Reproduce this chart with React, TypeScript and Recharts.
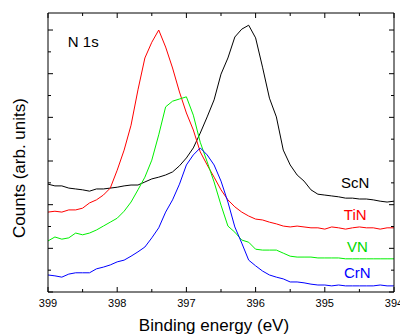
import { LineChart, Line, XAxis, YAxis, ReferenceDot } from 'recharts'

// binding energy grid, eV
const energies = [
  399.0, 398.9, 398.8, 398.7, 398.6, 398.5, 398.4, 398.3, 398.2, 398.1,
  398.0, 397.9, 397.8, 397.7, 397.6, 397.5, 397.4, 397.3, 397.2, 397.1,
  397.0, 396.9, 396.8, 396.7, 396.6, 396.5, 396.4, 396.3, 396.2, 396.1,
  396.0, 395.9, 395.8, 395.7, 395.6, 395.5, 395.4, 395.3, 395.2, 395.1,
  395.0, 394.9, 394.8, 394.7, 394.6, 394.5, 394.4, 394.3, 394.2, 394.1,
  394.0,
]

const scn = [
  2.47, 2.43, 2.43, 2.38, 2.36, 2.34, 2.31, 2.36, 2.36, 2.38,
  2.40, 2.43, 2.45, 2.45, 2.52, 2.59, 2.63, 2.68, 2.75, 2.89,
  3.07, 3.30, 3.64, 4.01, 4.40, 4.99, 5.36, 5.84, 6.02, 6.11,
  5.82, 5.15, 4.44, 4.01, 3.25, 2.91, 2.68, 2.54, 2.34, 2.24,
  2.22, 2.20, 2.18, 2.15, 2.15, 2.13, 2.13, 2.11, 2.08, 2.06,
  2.08,
]

const tin = [
  1.83, 1.85, 1.83, 1.88, 1.88, 1.92, 2.04, 2.11, 2.22, 2.38,
  2.79, 3.25, 3.82, 4.63, 5.36, 5.72, 6.00, 5.61, 5.13, 4.58,
  4.10, 3.71, 3.21, 2.91, 2.63, 2.34, 2.11, 1.95, 1.83, 1.74,
  1.67, 1.65, 1.60, 1.56, 1.51, 1.49, 1.51, 1.49, 1.47, 1.47,
  1.44, 1.49, 1.47, 1.44, 1.47, 1.49, 1.47, 1.47, 1.44, 1.47,
  1.47,
]

const vn = [
  1.17, 1.26, 1.21, 1.24, 1.35, 1.31, 1.35, 1.42, 1.51, 1.60,
  1.69, 1.85, 2.06, 2.34, 2.63, 3.02, 3.60, 4.24, 4.37, 4.42,
  4.47, 4.05, 3.43, 2.98, 2.52, 1.99, 1.51, 1.37, 1.19, 1.14,
  0.98, 0.96, 0.96, 0.96, 0.89, 0.82, 0.80, 0.80, 0.80, 0.78,
  0.78, 0.78, 0.78, 0.76, 0.76, 0.76, 0.76, 0.76, 0.76, 0.76,
  0.76,
]

const crn = [
  0.39, 0.37, 0.34, 0.41, 0.44, 0.44, 0.44, 0.53, 0.57, 0.62,
  0.69, 0.73, 0.82, 0.92, 1.03, 1.24, 1.47, 1.83, 2.11, 2.47,
  2.91, 3.14, 3.30, 3.14, 2.91, 2.54, 2.06, 1.49, 1.12, 0.73,
  0.60, 0.48, 0.39, 0.34, 0.30, 0.23, 0.23, 0.21, 0.18, 0.16,
  0.16, 0.14, 0.16, 0.14, 0.14, 0.14, 0.14, 0.14, 0.16, 0.14,
  0.14,
]

const xTicks = [399, 398.5, 398, 397.5, 397, 396.5, 396, 395.5, 395, 394.5, 394]
const yTicks = [0, 0.5, 1, 1.5, 2, 2.5, 3, 3.5, 4, 4.5, 5, 5.5, 6]

const series = [
  { key: 'ScN', color: '#000000' },
  { key: 'TiN', color: '#ff0000' },
  { key: 'VN', color: '#00f000' },
  { key: 'CrN', color: '#0000ff' },
]

// where the sample names sit, in data units
const tags = [
  { text: 'ScN', x: 394.56, y: 2.51, color: '#000000' },
  { text: 'TiN', x: 394.56, y: 1.77, color: '#ff0000' },
  { text: 'VN', x: 394.53, y: 1.04, color: '#00d800' },
  { text: 'CrN', x: 394.53, y: 0.45, color: '#0000ff' },
  { text: 'N 1s', x: 398.49, y: 5.74, color: '#000000' },
]

const data = energies.map((e, i) => ({
  e,
  ScN: scn[i],
  TiN: tin[i],
  VN: vn[i],
  CrN: crn[i],
}))

const font = '"Liberation Sans", Arial, sans-serif'

const xTick = (side: 'top' | 'bottom') => (props: any) => {
  const { x, payload } = props
  const major = Number.isInteger(payload.value)
  const len = major ? 5 : 3
  const y0 = side === 'bottom' ? 292 : 13
  const dir = side === 'bottom' ? -1 : 1
  return (
    <g>
      <line x1={x} x2={x} y1={y0} y2={y0 + dir * len} stroke="#000" />
      {side === 'bottom' && major && (
        <text x={x} y={307} textAnchor="middle" fontSize={11} fontFamily={font} fill="#000">
          {payload.value}
        </text>
      )}
    </g>
  )
}

const yTick = (side: 'left' | 'right') => (props: any) => {
  const { y, payload } = props
  const len = Number.isInteger(payload.value) ? 5 : 3
  const x0 = side === 'left' ? 48 : 394
  const dir = side === 'left' ? 1 : -1
  return <line x1={x0} x2={x0 + dir * len} y1={y} y2={y} stroke="#000" />
}

// the right/top frame axes carry no visible series, so give them a hidden one
const ghost = data.map(d => ({ e: d.e, g: d.ScN }))

export default function App() {
  return (
    <div style={{ position: 'absolute', left: 0, top: 0, background: '#fff' }}>
      <LineChart
        width={400}
        height={334}
        data={data}
        margin={{ top: 12, right: 5, bottom: 0, left: 47 }}
      >
        <XAxis
          dataKey="e"
          type="number"
          domain={[394, 399]}
          reversed
          ticks={xTicks}
          interval={0}
          height={42}
          tickSize={0}
          tickMargin={0}
          tickLine={false}
          axisLine={{ stroke: '#000' }}
          tick={xTick('bottom')}
          label={{
            content: () => (
              <text x={214} y={331} textAnchor="middle" fontSize={17} fontFamily={font} fill="#000">
                Binding energy (eV)
              </text>
            ),
          }}
        />
        <XAxis
          xAxisId="top"
          dataKey="e"
          orientation="top"
          type="number"
          domain={[394, 399]}
          reversed
          ticks={xTicks}
          interval={0}
          height={1}
          tickSize={0}
          tickMargin={0}
          tickLine={false}
          axisLine={{ stroke: '#000' }}
          tick={xTick('top')}
        />
        <YAxis
          type="number"
          domain={[0, 6.39]}
          ticks={yTicks}
          interval={0}
          width={1}
          tickSize={0}
          tickMargin={0}
          tickLine={false}
          axisLine={{ stroke: '#000' }}
          tick={yTick('left')}
          label={{
            content: () => (
              <text
                x={19}
                y={168}
                transform="rotate(-90 19 168)"
                textAnchor="middle"
                dominantBaseline="central"
                fontSize={17}
                fontFamily={font}
                fill="#000"
              >
                Counts (arb. units)
              </text>
            ),
          }}
        />
        <YAxis
          yAxisId="right"
          orientation="right"
          type="number"
          domain={[0, 6.39]}
          ticks={yTicks}
          interval={0}
          width={1}
          tickSize={0}
          tickMargin={0}
          tickLine={false}
          axisLine={{ stroke: '#000' }}
          tick={yTick('right')}
        />
        <Line
          data={ghost}
          dataKey="g"
          xAxisId="top"
          yAxisId="right"
          stroke="none"
          dot={false}
          activeDot={false}
          isAnimationActive={false}
        />
        {series.map(s => (
          <Line
            key={s.key}
            dataKey={s.key}
            type="linear"
            stroke={s.color}
            strokeWidth={1}
            dot={false}
            isAnimationActive={false}
          />
        ))}
        {tags.map(t => (
          <ReferenceDot
            key={t.text}
            x={t.x}
            y={t.y}
            r={0}
            stroke="none"
            fill="none"
            label={{ value: t.text, position: 'center', fill: t.color, fontSize: 15, fontFamily: font }}
          />
        ))}
      </LineChart>
    </div>
  )
}
